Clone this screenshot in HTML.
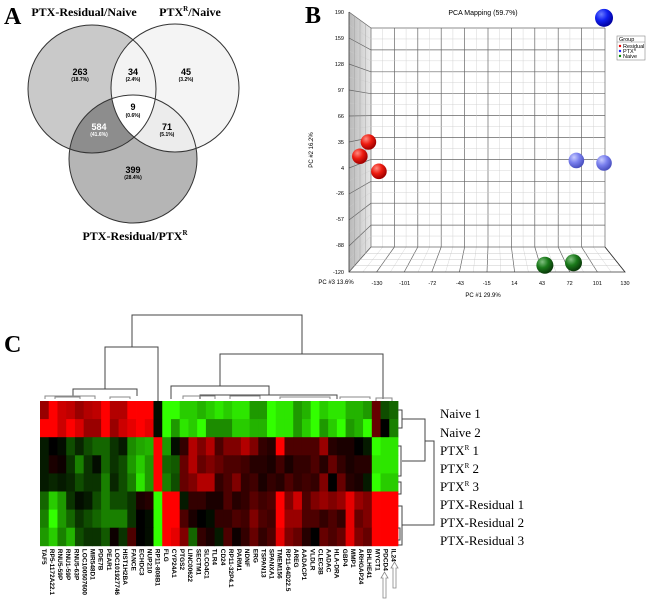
<!DOCTYPE html>
<html><head><meta charset="utf-8">
<style>
html,body{margin:0;padding:0;background:#fff;}
#root{position:relative;width:650px;height:600px;overflow:hidden;font-family:"Liberation Serif",serif;}
svg{position:absolute;left:0;top:0;}
</style></head>
<body>
<div id="root">
<svg id="fig" width="650" height="600" viewBox="0 0 650 600">
  <defs>
    <clipPath id="cL"><circle cx="92" cy="89" r="64"/></clipPath>
    <clipPath id="cR"><circle cx="175" cy="88" r="64"/></clipPath>
    <clipPath id="cB"><circle cx="133" cy="159" r="64"/></clipPath>
    <clipPath id="pcaClip"><polygon points="349,0 650,0 650,300 349,300"/></clipPath>
    <linearGradient id="wallG" x1="0" y1="0" x2="1" y2="0">
      <stop offset="0" stop-color="#b8b8b8"/><stop offset="1" stop-color="#e8e8e8"/>
    </linearGradient>
    <radialGradient id="gRed" cx="0.35" cy="0.3" r="0.7"><stop offset="0" stop-color="#ff8a80"/><stop offset="0.5" stop-color="#ee1c10"/><stop offset="1" stop-color="#a00000"/></radialGradient>
    <radialGradient id="gBlue" cx="0.35" cy="0.3" r="0.7"><stop offset="0" stop-color="#6a7cff"/><stop offset="0.5" stop-color="#1020f0"/><stop offset="1" stop-color="#0000a0"/></radialGradient>
    <radialGradient id="gLBlue" cx="0.35" cy="0.3" r="0.7"><stop offset="0" stop-color="#c8ccff"/><stop offset="0.5" stop-color="#7a80ee"/><stop offset="1" stop-color="#4a50c0"/></radialGradient>
    <radialGradient id="gGreen" cx="0.35" cy="0.3" r="0.7"><stop offset="0" stop-color="#80c080"/><stop offset="0.5" stop-color="#1a7a1a"/><stop offset="1" stop-color="#0a3a0a"/></radialGradient>
  </defs>

  <!-- Panel A: Venn -->
  <g>
    <text x="4" y="24" font-size="24" font-weight="bold">A</text>
    <circle cx="92" cy="89" r="64" fill="#c9c9c9"/>
    <circle cx="175" cy="88" r="64" fill="#f4f4f4"/>
    <circle cx="133" cy="159" r="64" fill="#b5b5b5"/>
    <g clip-path="url(#cL)"><circle cx="175" cy="88" r="64" fill="#f3f3f3"/><circle cx="133" cy="159" r="64" fill="#8d8d8d"/></g>
    <g clip-path="url(#cR)"><circle cx="133" cy="159" r="64" fill="#ececec"/></g>
    <g clip-path="url(#cL)"><g clip-path="url(#cR)"><circle cx="133" cy="159" r="64" fill="#ffffff"/></g></g>
    <circle cx="92" cy="89" r="64" fill="none" stroke="#333" stroke-width="1"/>
    <circle cx="175" cy="88" r="64" fill="none" stroke="#333" stroke-width="1"/>
    <circle cx="133" cy="159" r="64" fill="none" stroke="#333" stroke-width="1"/>
    <g font-family="Liberation Sans, sans-serif" text-anchor="middle" font-weight="bold">
      <text x="80" y="75" font-size="9">263</text>
      <text x="80" y="81" font-size="5">(18.7%)</text>
      <text x="133" y="75" font-size="9">34</text>
      <text x="133" y="81" font-size="5">(2.4%)</text>
      <text x="186" y="75" font-size="9">45</text>
      <text x="186" y="81" font-size="5">(3.2%)</text>
      <text x="133" y="110" font-size="9">9</text>
      <text x="133" y="117" font-size="5">(0.6%)</text>
      <text x="99" y="130" font-size="9" fill="#fff">584</text>
      <text x="99" y="136" font-size="5" fill="#fff">(41.6%)</text>
      <text x="167" y="130" font-size="9">71</text>
      <text x="167" y="136" font-size="5">(5.1%)</text>
      <text x="133" y="173" font-size="9">399</text>
      <text x="133" y="179" font-size="5">(28.4%)</text>
    </g>
    <g font-size="12" font-weight="bold" text-anchor="middle">
      <text x="84" y="16">PTX-Residual/Naive</text>
      <text x="190" y="16">PTX<tspan font-size="7" dy="-5">R</tspan><tspan dy="5">/Naive</tspan></text>
      <text x="135" y="240">PTX-Residual/PTX<tspan font-size="7" dy="-5">R</tspan></text>
    </g>
  </g>

  <!-- Panel B: PCA -->
  <g id="pca">
    <text x="305" y="23" font-size="24" font-weight="bold">B</text>
    <text x="483" y="15" font-size="7" font-family="Liberation Sans, sans-serif" text-anchor="middle">PCA Mapping (59.7%)</text>
    <polygon points="349,12 371,28 371,247 349,272" fill="url(#wallG)"/>
    <g id="pcaGrid"></g>
    <g id="pcaPts" clip-path="url(#pcaClip)"></g>
    <text x="313" y="150" font-size="6" font-family="Liberation Sans, sans-serif" text-anchor="middle" transform="rotate(-90 313 150)">PC #2 16.2%</text>
    <text x="483" y="297" font-size="6" font-family="Liberation Sans, sans-serif" text-anchor="middle">PC #1 29.9%</text>
    <text x="336" y="284" font-size="6" font-family="Liberation Sans, sans-serif" text-anchor="middle">PC #3 13.6%</text>
    <g font-family="Liberation Sans, sans-serif" font-size="5.5">
      <rect x="617" y="36" width="28" height="24" fill="#fff" stroke="#888" stroke-width="0.6"/>
      <line x1="617" y1="42" x2="645" y2="42" stroke="#888" stroke-width="0.5"/>
      <text x="619" y="41">Group</text>
      <circle cx="620" cy="46" r="1.2" fill="#e00"/><text x="623" y="48">Residual</text>
      <circle cx="620" cy="51" r="1.2" fill="#22f"/><text x="623" y="53">PTX<tspan font-size="3.5" dy="-2">R</tspan></text>
      <circle cx="620" cy="56" r="1.2" fill="#080"/><text x="623" y="58">Naive</text>
    </g>
  </g>

  <!-- Panel C: heatmap -->
  <g>
    <text x="4" y="352" font-size="24" font-weight="bold">C</text>
    <g id="dendroTop" stroke="#444" stroke-width="1" fill="none">
      <path d="M132,347V315H302V354"/>
      <path d="M105,389V347H158V401"/>
      <path d="M73,396V389H137V396"/>
      <path d="M220,386V354H383V399"/>
      <path d="M171,399V386H269V395"/>
      <path d="M200,399V395H337V399"/>
      <path d="M45,399V396H95V399M110,399V397H130V399M55,399V397H80V399" stroke="#888"/>
      <path d="M183,399V396H215V399M230,399V396H260V399M280,399V397H330V399M340,399V397H370V399M376,401V398H392V401" stroke="#888"/>
    </g>
    <g id="heat"></g>
    <g stroke="#444" stroke-width="1" fill="none">
      <path d="M398,410H402V428H398M402,419H425V461H402"/>
      <path d="M398,446H401V476H398M398,482H401V494H398"/>
      <path d="M425,441H434V525H402"/>
      <path d="M398,506H402V545H398M398,528H400V540H398"/>
    </g>
    <g font-size="13">
      <text x="440" y="418">Naive 1</text>
      <text x="440" y="437">Naive 2</text>
      <text x="440" y="455">PTX<tspan font-size="7" dy="-5">R</tspan><tspan dy="5"> 1</tspan></text>
      <text x="440" y="473">PTX<tspan font-size="7" dy="-5">R</tspan><tspan dy="5"> 2</tspan></text>
      <text x="440" y="491">PTX<tspan font-size="7" dy="-5">R</tspan><tspan dy="5"> 3</tspan></text>
      <text x="440" y="509">PTX-Residual 1</text>
      <text x="440" y="527">PTX-Residual 2</text>
      <text x="440" y="545">PTX-Residual 3</text>
    </g>
    <g id="genes" font-size="6.5" font-weight="bold" font-family="Liberation Sans, sans-serif"></g>
    <g fill="#fff" stroke="#888" stroke-width="0.8">
      <path d="M383,598V578H381L384.5,572L388,578H386V598Z"/>
      <path d="M393,588V568H391L394.5,562L398,568H396V588Z"/>
    </g>
  </g>
</svg>
</div>
<script>
// ---- PCA data ----
const pcaGroups = ["PTXR","Residual","Residual","Residual","PTXR","PTXR","Naive","Naive"];
const pc1 = [108, -139, -148, -128, 79, 108, 46, 76];
const pc2 = [183, 35, 18, 0, 13, 10, -112, -109];
const pcaYTicks = [190,159,128,97,66,35,4,-26,-57,-88,-120];
const pcaXTicks = [-130,-101,-72,-43,-15,14,43,72,101,130];

// ---- Heatmap data ----
const sampleNames = ["Naive 1","Naive 2","PTXR 1","PTXR 2","PTXR 3","PTX-Residual 1","PTX-Residual 2","PTX-Residual 3"];
const rowN1 = [0.6,1,0.8,0.75,0.6,0.7,0.75,1,0.7,0.7,1,1,1,-0.05,-1,-1,-0.8,-0.8,-0.7,-0.8,-0.9,-0.8,-0.9,-0.9,-0.6,-0.6,-1,-0.9,-0.9,-0.6,-0.7,-1,-0.8,-0.9,-0.9,-0.7,-0.7,-0.6,0.4,-0.3,-0.4];
const rowN2 = [1,1,0.8,1,0.85,0.6,0.6,1,0.6,0.8,0.9,1,0.9,-0.05,-1,-0.6,-0.9,-0.8,-1,-0.55,-0.55,-0.55,-0.8,-0.8,-0.7,-0.7,-1,-0.9,-0.9,-0.6,-0.8,-1,-0.6,-0.8,-1,-0.6,-0.7,-1,0.4,0,-0.5];
const rowP1 = [-0.1,0,-0.05,-0.3,-0.15,-0.3,-0.4,-0.4,-0.2,-0.1,-0.55,-0.65,-0.7,1,-0.6,-0.05,0.2,0.7,0.5,0.7,0.3,0.5,0.5,0.7,0.5,0.2,0.15,1,0.3,0.3,0.3,0.3,0.6,0.15,0.1,0.1,0,-0.1,-1,-0.9,-0.9];
const rowP2 = [-0.1,0.1,0.05,-0.2,-0.5,-0.2,-0.05,-0.4,-0.2,-0.3,-0.6,-0.8,-0.6,1,-0.4,-0.35,0.4,0.7,0.4,0.5,0.4,0.3,0.3,0.25,0.15,0.15,0.1,0.25,0.1,0.2,0.2,0.3,0.15,0.4,0.2,0.1,0.15,0.15,-0.9,-0.9,-0.9];
const rowP3 = [-0.1,-0.15,-0.1,-0.15,-0.3,-0.2,-0.2,-0.5,-0.15,-0.3,-0.5,-0.9,-0.6,1,-0.5,-0.3,0.4,0.5,0.7,0.7,0.2,0.3,0.5,0.2,0.25,0.1,0.2,0.15,0.3,0.2,0.25,0.2,0.5,0,0.4,0.15,0.1,-0.1,-1,-0.8,-0.8];
const rowR1 = [-0.4,-0.8,-0.6,-0.2,-0.05,-0.1,-0.3,-0.5,-0.3,-0.3,-0.2,0.1,0.15,-1,1,1,-0.1,0.2,0.2,0.1,0.1,0.3,0.15,0.2,0.35,0.25,0.3,1,0.5,0.8,0.3,0.5,0.6,0.5,0.6,0.9,0.6,0.5,1,1,1];
const rowR2 = [-0.5,-1,-0.6,-0.4,-0.2,-0.3,-0.4,-0.5,-0.5,-0.5,-0.2,0,-0.05,-1,1,1,0.3,0.1,0,-0.05,0.2,0.2,0.3,0.25,0.5,0.3,0.25,1,0.6,0.6,0.3,0.3,0.2,0.3,0.2,0.9,0.4,0.5,1,1,1];
const rowR3 = [-0.6,-0.8,-0.5,-0.7,-0.3,-0.2,-0.2,-0.35,0.05,-0.2,0.3,0,-0.05,-1,1,0.9,0.5,-0.4,0.2,0.1,-0.1,0.3,0.05,0.2,0.4,0.2,0.3,0.9,0.5,0.4,0.15,0,0.4,0.3,0.4,0.9,0.5,0.4,1,1,1];
const geneLabels = ["TAF5","RP5-1172A22.1","RNU5-59P","RNU1-59P","RNU5-63P","LOC100507600","MIR548D1","PDE7B","PEAR1","LOC101927746","HIST1H2BA","FANCE","ECHDC3","NUP210","RP11-808B1","FLG","CYP24A1","PTGS2","LINC00622","SECTM1","SLCO4C1","TLR4","CD24","RP11-32P4.1","PARM1","NDNF","ERG","TSPAN13","SPANXA1","TMEM156","RP11-64D22.5","AREG","AADACP1","VLDLR","CLEC3B","AADAC","HLA-DRA","GBP4","MMP1","ARHGAP24","BHLHE41","MYCT1","PDCD4","IL24"];

const NS = "http://www.w3.org/2000/svg";
function mk(tag, attrs, parent){const e=document.createElementNS(NS,tag);for(const k in attrs)e.setAttribute(k,attrs[k]);parent.appendChild(e);return e;}

// PCA axes
const xS = v => 377 + (v + 130) / 260 * 248;
const yS = v => 12 + (190 - v) / 310 * 260;
const grid = document.getElementById('pcaGrid');
mk('rect',{x:371,y:28,width:234,height:219,fill:'#fff',stroke:'none'},grid);
for(let i=0;i<=20;i++){
  const major=i%2===0, c=major?'#666':'#ccc', w=major?0.7:0.4;
  const bx=371+i*234/20, by=28+i*219/20;
  mk('line',{x1:bx,y1:28,x2:bx,y2:247,stroke:c,'stroke-width':w},grid);
  mk('line',{x1:371,y1:by,x2:605,y2:by,stroke:c,'stroke-width':w},grid);
  const fy=12+i*260/20;
  mk('line',{x1:349,y1:fy,x2:371,y2:by,stroke:c,'stroke-width':w},grid);
  const fx=349+i*276/20;
  mk('line',{x1:fx,y1:272,x2:bx,y2:247,stroke:c,'stroke-width':w},grid);
}
for(let j=1;j<4;j++){
  const t=j/4;
  mk('line',{x1:349+22*t,y1:272-25*t,x2:625-20*t,y2:272-25*t,stroke:'#bbb','stroke-width':0.4},grid);
  mk('line',{x1:349+22*t,y1:12+16*t,x2:349+22*t,y2:272-25*t,stroke:'#999','stroke-width':0.4},grid);
}
mk('polyline',{points:'349,12 349,272 625,272 605,247',fill:'none',stroke:'#333','stroke-width':0.8},grid);
pcaYTicks.forEach(v=>{
  const t=mk('text',{x:344,y:yS(v)+2,'font-size':5.5,'font-family':'Liberation Sans, sans-serif','text-anchor':'end'},grid);
  t.textContent=v;
  
  
});
pcaXTicks.forEach(v=>{
  const t=mk('text',{x:xS(v),y:285,'font-size':5.5,'font-family':'Liberation Sans, sans-serif','text-anchor':'middle'},grid);
  t.textContent=v;
  
  
});
const fillFor={Residual:'url(#gRed)',PTXR:'url(#gLBlue)',Naive:'url(#gGreen)'};
const pts=document.getElementById('pcaPts');
pc1.forEach((v,i)=>{
  const g=pcaGroups[i];
  const big=(i===0);
  const c=mk('circle',{cx:xS(v),cy:yS(pc2[i]),r:big?9:(g==='Naive'?8.5:7.8),fill:big?'url(#gBlue)':fillFor[g]},pts);
  
  
});

// Heatmap
const rows=[rowN1,rowN2,rowP1,rowP2,rowP3,rowR1,rowR2,rowR3];
const hx0=40,hx1=398,hy0=401,rh=18.1;
const cw=(hx1-hx0)/rowN1.length;
function col(v){
  if(v>=0){return 'rgb('+Math.round(255*Math.min(1,v))+',0,0)';}
  const a=Math.min(1,-v);return 'rgb('+Math.round(50*a)+','+Math.round(255*a)+',0)';
}
const heat=document.getElementById('heat');
rows.forEach((r,ri)=>{
  r.forEach((v,ci)=>{
    const c=mk('rect',{x:hx0+ci*cw,y:hy0+ri*rh,width:cw+0.4,height:rh+0.4,fill:col(v)},heat);
    
    
  });
});
const genes=document.getElementById('genes');
const gw=(hx1-hx0)/geneLabels.length;
geneLabels.forEach((g,i)=>{
  const x=hx0+gw*(i+0.5)-2.3, y=hy0+8*rh+3;
  const t=mk('text',{x:x,y:y,transform:'rotate(90 '+x+' '+y+')'},genes);
  t.textContent=g;
  
  
});
</script>
</body></html>
